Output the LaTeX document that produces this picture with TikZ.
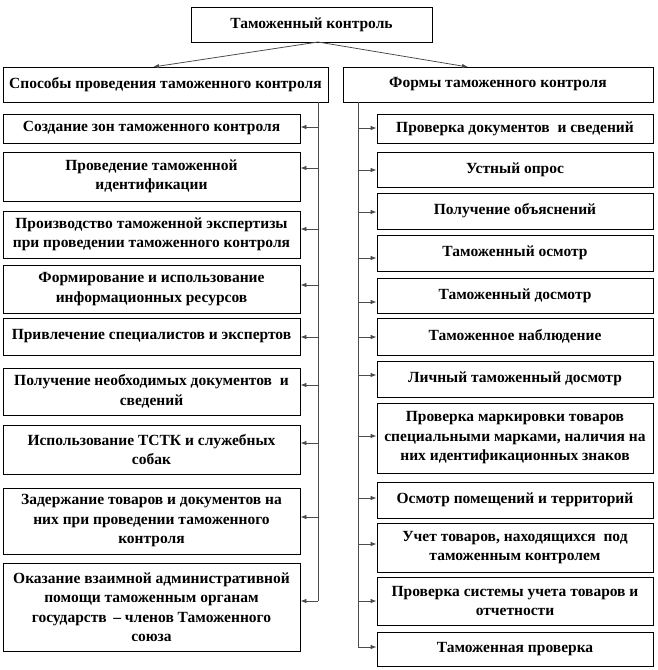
\documentclass[tikz,border=0pt]{standalone}
\usepackage{fontspec}
\setmainfont{Liberation Serif}[BoldFont={Liberation Serif Bold}]
\usetikzlibrary{arrows.meta}
\tikzset{
  box/.style={draw=black, line width=0.8pt, align=center, inner sep=2pt,
    font=\fontsize{15.5}{19.5}\selectfont\bfseries},
  lbox/.style={box, minimum width=297pt},
  rbox/.style={box, minimum width=276pt},
  conn/.style={draw=black!70, line width=0.8pt},
  arr/.style={conn, -{Latex[length=6pt,width=4.5pt]}},
}
\begin{document}
\begin{tikzpicture}[x=1pt,y=-1pt]
\useasboundingbox (0,0) rectangle (657,670);
% top
\node[box, minimum width=241pt, minimum height=35pt] (top) at (311.5,24.5) {Таможенный контроль};
\node[box, minimum width=325pt, minimum height=35pt] (lh) at (165.5,84.5) {Способы проведения таможенного контроля};
\node[box, minimum width=310pt, minimum height=35pt] (rh) at (498,84.5) {Формы таможенного контроля};
\coordinate (ts) at (318,42);
\coordinate (lt) at (153,67);
\coordinate (rt) at (468,67);
\draw[arr] (ts) -- (lt);
\draw[arr] (ts) -- (rt);
% left boxes
\node[lbox, minimum height=29pt] (l1) at (151.5,128.5) {Создание зон таможенного контроля};
\node[lbox, minimum height=49pt] (l2) at (151.5,176.5) {Проведение таможенной\\идентификации};
\node[lbox, minimum height=47pt] (l3) at (151.5,234.5) {Производство таможенной экспертизы\\при проведении таможенного контроля};
\node[lbox, minimum height=48pt] (l4) at (151.5,289) {Формирование и использование\\информационных ресурсов};
\node[lbox, minimum height=37pt] (l5) at (151.5,336.5) {Привлечение специалистов и экспертов};
\node[lbox, minimum height=47pt] (l6) at (151.5,391.5) {Получение необходимых документов \ и\\сведений};
\node[lbox, minimum height=49pt] (l7) at (151.5,449.5) {Использование ТСТК и служебных\\собак};
\node[lbox, minimum height=66pt] (l8) at (151.5,521) {Задержание товаров и документов на\\них при проведении таможенного\\контроля};
\node[lbox, minimum height=88pt] (l9) at (151.5,607) {Оказание взаимной административной\\помощи таможенным органам\\государств \,– членов Таможенного\\союза};
% right boxes
\node[rbox, minimum height=29pt] (r1) at (515,128.5) {Проверка документов \ и сведений};
\node[rbox, minimum height=35pt] (r2) at (515,169.5) {Устный опрос};
\node[rbox, minimum height=36pt] (r3) at (515,211) {Получение объяснений};
\node[rbox, minimum height=36pt] (r4) at (515,253) {Таможенный осмотр};
\node[rbox, minimum height=35pt] (r5) at (515,295.5) {Таможенный досмотр};
\node[rbox, minimum height=37pt] (r6) at (515,336.5) {Таможенное наблюдение};
\node[rbox, minimum height=36pt] (r7) at (515,379) {Личный таможенный досмотр};
\node[rbox, minimum height=70pt] (r8) at (515,438) {Проверка маркировки товаров\\специальными марками, наличия на\\них идентификационных знаков};
\node[rbox, minimum height=36pt] (r9) at (515,500) {Осмотр помещений и территорий};
\node[rbox, minimum height=49pt] (r10) at (515,547.5) {Учет товаров, находящихся \ под\\таможенным контролем};
\node[rbox, minimum height=48pt] (r11) at (515,601) {Проверка системы учета товаров и\\отчетности};
\node[rbox, minimum height=34pt] (r12) at (515,649) {Таможенная проверка};
% left spine
\coordinate (ls0) at (318,102);
\coordinate (ls9) at (318,601);
\draw[conn] (ls0) -- (ls9);
\foreach \n/\y in {1/127,2/168,3/229,4/285,5/337,6/385,7/443,8/517,9/601}{
  \coordinate (la\n) at (318,\y);
  \draw[arr] (la\n) -- (la\n -| l\n.east);
}
% right spine
\coordinate (rs0) at (358,102);
\coordinate (rs12) at (358,647);
\draw[conn] (rs0) -- (rs12);
\foreach \n/\y in {1/128,2/170,3/212,4/258,5/302,6/337,7/375,8/436,9/498,10/544,11/601,12/647}{
  \coordinate (ra\n) at (358,\y);
  \draw[arr] (ra\n) -- (ra\n -| r\n.west);
}
\end{tikzpicture}
\end{document}
